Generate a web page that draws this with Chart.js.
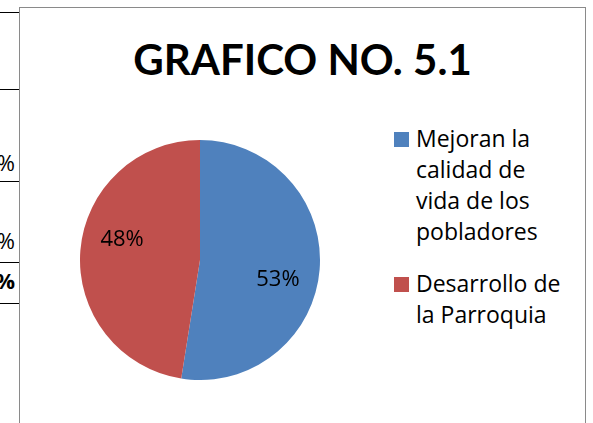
<!DOCTYPE html>
<html>
<head>
<meta charset="utf-8">
<script src="https://cdn.jsdelivr.net/npm/chart.js@4"></script>
<style>
  body { margin: 0; width: 593px; height: 423px; overflow: hidden; background: #fff; position: relative; font-family: "Open Sans", sans-serif; color: #000; }
  .marco { position: absolute; left: 19px; top: 7px; width: 567px; height: 440px; box-sizing: border-box; border: 1px solid #8a8a8a; }
  .linea { position: absolute; left: 0; width: 19px; height: 1px; background: #000; }
  .pct { position: absolute; right: 578px; font-size: 22px; line-height: 31px; }
  .titulo { position: absolute; left: 19px; width: 567px; top: 34px; text-align: center; font: bold 42px/50px Lato, sans-serif; }
  .torta { position: absolute; left: 80px; top: 140px; width: 240px; height: 240px; }
  .leyenda { position: absolute; left: 394px; top: 0; font-size: 23px; line-height: 31px; }
  .item { position: absolute; left: 0; white-space: nowrap; }
  .caja { position: absolute; left: 0; width: 15px; height: 15px; }
  .texto { position: absolute; left: 22px; top: 0; }
</style>
</head>
<body>
<div class="linea" style="top:12px"></div>
<div class="linea" style="top:89px"></div>
<div class="linea" style="top:181px"></div>
<div class="linea" style="top:262px"></div>
<div class="linea" style="top:303px"></div>
<div class="pct" style="top:147px">%</div>
<div class="pct" style="top:225px">%</div>
<div class="pct" style="top:265px;font-weight:bold">%</div>

<div class="marco"></div>
<div class="titulo" id="titulo"></div>
<div class="torta"><canvas id="grafico"></canvas></div>
<div class="leyenda" id="leyenda"></div>

<script>
const titulo = 'GRAFICO NO. 5.1';
const categorias = [
  ['Mejoran la', 'calidad de', 'vida de los', 'pobladores'],
  ['Desarrollo de', 'la Parroquia']
];
const porcentajes = [52.5, 47.5];
const colores = ['#4F81BD', '#C0504D'];

document.getElementById('titulo').textContent = titulo;

// leyenda a la derecha
const leyenda = document.getElementById('leyenda');
const topes = [123, 268];
categorias.forEach((lineas, i) => {
  const item = document.createElement('div');
  item.className = 'item';
  item.style.top = topes[i] + 'px';
  const caja = document.createElement('div');
  caja.className = 'caja';
  caja.style.background = colores[i];
  caja.style.top = '9px';
  const texto = document.createElement('div');
  texto.className = 'texto';
  texto.innerHTML = lineas.join('<br>');
  item.appendChild(caja);
  item.appendChild(texto);
  leyenda.appendChild(item);
});

const etiquetas = {
  id: 'etiquetas',
  afterDatasetsDraw(chart) {
    const ctx = chart.ctx;
    const meta = chart.getDatasetMeta(0);
    const total = porcentajes.reduce((a, b) => a + b, 0);
    ctx.save();
    ctx.font = '22px "Open Sans"';
    ctx.fillStyle = '#000';
    ctx.textAlign = 'center';
    ctx.textBaseline = 'middle';
    meta.data.forEach((arc, i) => {
      const p = arc.getProps(['x', 'y', 'startAngle', 'endAngle', 'outerRadius'], true);
      const ang = (p.startAngle + p.endAngle) / 2 + 0.17;
      const r = p.outerRadius * 0.67;
      const txt = Math.round(porcentajes[i] / total * 100) + '%';
      ctx.fillText(txt, p.x + Math.cos(ang) * r, p.y + Math.sin(ang) * r);
    });
    ctx.restore();
  }
};

const grafico = new Chart(document.getElementById('grafico'), {
  type: 'pie',
  data: {
    labels: categorias.map(l => l.join(' ')),
    datasets: [{
      data: porcentajes,
      backgroundColor: colores,
      borderWidth: 0,
      hoverOffset: 0
    }]
  },
  options: {
    responsive: true,
    maintainAspectRatio: false,
    animation: false,
    layout: { padding: 0 },
    plugins: {
      legend: { display: false },
      title: { display: false },
      tooltip: { enabled: false }
    }
  },
  plugins: [etiquetas]
});
</script>
</body>
</html>
